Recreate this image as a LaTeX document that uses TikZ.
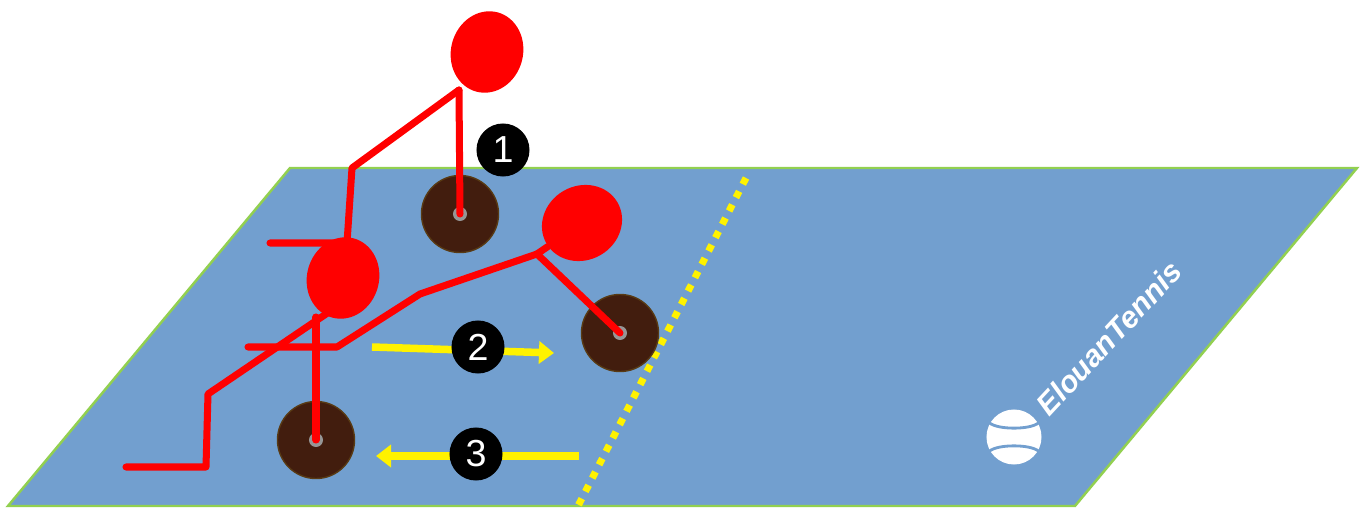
\documentclass[tikz,border=0pt]{standalone}
\usepackage{fontspec}
\setmainfont{Liberation Sans}
\usetikzlibrary{positioning, arrows.meta, shapes.geometric}
\definecolor{court}{RGB}{114,159,207}
\definecolor{courtline}{RGB}{146,208,80}
\definecolor{spotfill}{RGB}{66,29,14}
\definecolor{spotline}{RGB}{88,58,20}
\definecolor{pivot}{RGB}{150,150,150}
\tikzset{
  head/.style={
    ellipse,
    fill=red,
    inner sep=0pt,
    minimum width=0.72cm,
    minimum height=0.82cm
  },
  spot/.style={
    circle,
    draw=spotline,
    fill=spotfill,
    inner sep=0pt,
    minimum size=0.77cm
  },
  pin/.style={
    circle,
    fill=pivot,
    inner sep=0pt,
    minimum size=0.14cm
  },
  badge/.style={
    circle,
    fill=black,
    text=white,
    inner sep=0pt,
    minimum size=0.53cm,
    font=\fontsize{10.7}{12}\selectfont
  },
  body/.style={
    draw=red,
    line width=0.07cm,
    line cap=round,
    line join=round
  },
  move/.style={
    draw=yellow,
    line width=0.075cm,
    -{Triangle[length=0.15cm, width=0.22cm]}
  },
  seam/.style={
    draw=court,
    line width=0.8pt
  }
}

\begin{document}
\begin{tikzpicture}[x=0.01cm, y=-0.01cm]
    \useasboundingbox (0,0) rectangle (1362,509);

    % court and service line
    \filldraw[fill=court, draw=courtline, line width=0.7pt]
        (290,168) -- (1357,168) -- (1075,506) -- (8,506) -- cycle;
    \coordinate (nettop) at (746,178);
    \coordinate (netbot) at (578,506);
    \draw[yellow, line width=0.07cm, dash pattern=on 0.07cm off 0.08cm] (nettop) -- (netbot);

    % feet positions
    \node[spot] (s1) at (460,214) {};
    \node[spot] (s2) at (620,333) {};
    \node[spot] (s3) at (316,440) {};
    \node[pin] (p1) at (460,214) {};
    \node[pin] (p2) at (620,333) {};
    \node[pin] (p3) at (316,440) {};

    % bodies and arms
    \coordinate (n1) at (459,90);
    \coordinate (e1) at (352,168);
    \coordinate (w1) at (347,243);
    \coordinate (f1) at (270,243);
    \draw[body] (n1) -- (p1.center);
    \draw[body] (n1) -- (e1) -- (w1) -- (f1);

    \coordinate (n2) at (316,317);
    \coordinate (a2) at (329,312);
    \coordinate (e2) at (208,394);
    \coordinate (w2) at (206,467);
    \coordinate (f2) at (126,467);
    \draw[body] (n2) -- (p3.center);
    \draw[body] (a2) -- (e2) -- (w2) -- (f2);

    \coordinate (n3) at (537,254);
    \coordinate (e3) at (420,294);
    \coordinate (w3) at (337,347);
    \coordinate (f3) at (248,347);
    \draw[body] (n3) -- (p2.center);
    \draw[body] (n3) -- (e3) -- (w3) -- (f3);

    \node[head, rotate=-15] (h1) at (487,52) {};
    \node[head, rotate=-15] (h2) at (343,278) {};
    \node[head, minimum width=0.82cm, minimum height=0.74cm, rotate=30] (h3) at (582,223) {};
    \draw[body] (n3) -- (h3);

    % moves
    \coordinate (m2a) at (372,347);
    \coordinate (m2b) at (554,353);
    \coordinate (m3a) at (579,456);
    \coordinate (m3b) at (376,456);
    \draw[move] (m2a) -- (m2b);
    \draw[move] (m3a) -- (m3b);

    \node[badge] (b1) at (503,150) {1};
    \node[badge] (b2) at (478,347) {2};
    \node[badge] (b3) at (476,454) {3};

    % logo
    \node[circle, fill=white, inner sep=0pt, minimum size=0.55cm] (ball) at (1014,437) {};
    \draw[seam] (ball.150) .. controls +(8,7) and +(-8,7) .. (ball.30);
    \draw[seam] (ball.210) .. controls +(8,-7) and +(-8,-7) .. (ball.330);
    \node[text=white, rotate=47, font=\fontsize{8.6}{10}\selectfont\bfseries\itshape] (brand) at (1109,338) {ElouanTennis};
\end{tikzpicture}
\end{document}
